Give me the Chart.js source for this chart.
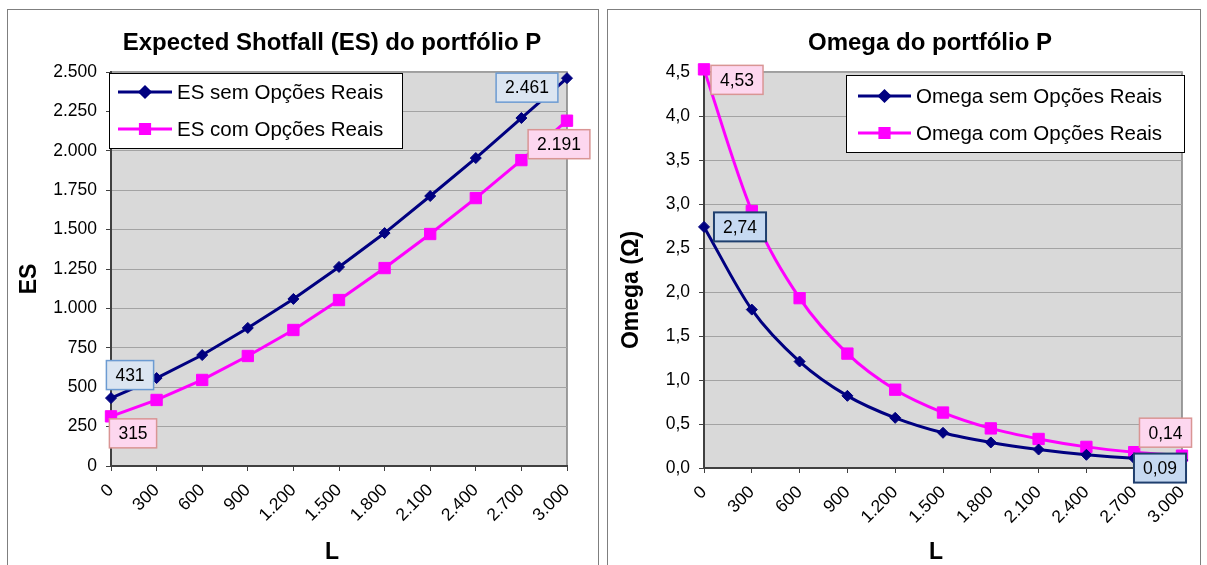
<!DOCTYPE html>
<html>
<head>
<meta charset="utf-8">
<title>ES e Omega do portfólio P</title>
<script src="https://cdn.jsdelivr.net/npm/chart.js@4/dist/chart.umd.min.js"></script>
<style>
  body { margin: 0; background: #fff; width: 1207px; height: 565px; overflow: hidden; position: relative; }
  .moldura { position: absolute; top: 9px; height: 600px; border: 1.5px solid #7f7f7f; box-sizing: border-box; }
  canvas { position: absolute; top: 0; }
</style>
</head>
<body>
<div class="moldura" style="left:7px;width:592px"></div>
<div class="moldura" style="left:607px;width:594px"></div>
<canvas id="graficoES" width="603" height="565" style="left:0;width:603px;height:565px"></canvas>
<canvas id="graficoOmega" width="604" height="565" style="left:603px;width:604px;height:565px"></canvas>
<script>
// níveis de L (eixo x, comum aos dois gráficos)
const niveisL = [0, 300, 600, 900, 1200, 1500, 1800, 2100, 2400, 2700, 3000];

// Expected Shortfall
const esSemOpcoes = [431, 558, 704, 876, 1060, 1263, 1478, 1713, 1954, 2208, 2461];
const esComOpcoes = [315, 419, 546, 698, 863, 1053, 1256, 1472, 1700, 1941, 2191];

// Omega
const omegaSemOpcoes = [2.74, 1.80, 1.21, 0.82, 0.57, 0.40, 0.29, 0.21, 0.15, 0.11, 0.09];
const omegaComOpcoes = [4.53, 2.92, 1.93, 1.30, 0.89, 0.63, 0.45, 0.33, 0.24, 0.18, 0.14];

const FONTE = '"Liberation Sans", Arial, sans-serif';
const AZUL = '#000080';
const MAGENTA = '#ff00ff';

function fmtMilhar(v) {
  return String(Math.round(v)).replace(/\B(?=(\d{3})+(?!\d))/g, '.');
}
function fmtDecimal(v, casas) {
  return Number(v).toFixed(casas).replace('.', ',');
}
const formatos = {
  milhar: v => fmtMilhar(v),
  decimal: v => fmtDecimal(v, 2)
};

const estilosRotulo = {
  azulClaro: { fundo: '#dbe5f1', borda: '#6c9bd2', largura: 1.5 },
  azulEscuro: { fundo: '#c6d9f1', borda: '#1f3f6e', largura: 2 },
  rosa: { fundo: '#fdd7ef', borda: '#d99594', largura: 1.5 }
};

// fundo cinza e borda da área de plotagem
const areaPlot = {
  id: 'areaPlot',
  beforeDraw(chart) {
    const { ctx, chartArea: a } = chart;
    ctx.save();
    ctx.fillStyle = '#d9d9d9';
    ctx.fillRect(a.left, a.top, a.right - a.left, a.bottom - a.top);
    ctx.strokeStyle = '#808080';
    ctx.lineWidth = 1.5;
    ctx.strokeRect(a.left, a.top, a.right - a.left, a.bottom - a.top);
    ctx.restore();
  }
};

// título e títulos dos eixos
const textos = {
  id: 'textos',
  afterDraw(chart, args, opts) {
    const ctx = chart.ctx;
    for (const t of opts.itens) {
      ctx.save();
      ctx.translate(t.x, t.y);
      if (t.rot) ctx.rotate(t.rot);
      ctx.fillStyle = '#000';
      ctx.textAlign = 'center';
      ctx.textBaseline = 'middle';
      ctx.font = 'bold ' + t.size + 'px ' + FONTE;
      ctx.fillText(t.text, 0, 0);
      ctx.restore();
    }
  }
};

// caixas com o valor do primeiro e do último ponto
const rotulosValor = {
  id: 'rotulosValor',
  afterDatasetsDraw(chart, args, opts) {
    const ctx = chart.ctx;
    const formato = formatos[opts.formato];
    ctx.save();
    ctx.font = '17.5px ' + FONTE;
    ctx.textAlign = 'center';
    ctx.textBaseline = 'middle';
    for (const r of opts.itens) {
      const pt = chart.getDatasetMeta(r.ds).data[r.idx];
      const txt = formato(chart.data.datasets[r.ds].data[r.idx]);
      const w = ctx.measureText(txt).width + 18;
      const h = 29;
      const cx = pt.x + r.dx, cy = pt.y + r.dy;
      const s = estilosRotulo[r.estilo];
      ctx.fillStyle = s.fundo;
      ctx.fillRect(cx - w / 2, cy - h / 2, w, h);
      ctx.strokeStyle = s.borda;
      ctx.lineWidth = s.largura;
      ctx.strokeRect(cx - w / 2, cy - h / 2, w, h);
      ctx.fillStyle = '#000';
      ctx.fillText(txt, cx, cy + 1);
    }
    ctx.restore();
  }
};

// legenda com moldura dentro da área de plotagem
const legendaCaixa = {
  id: 'legendaCaixa',
  afterDraw(chart, args, o) {
    const ctx = chart.ctx;
    ctx.save();
    ctx.fillStyle = '#fff';
    ctx.fillRect(o.x, o.y, o.w, o.h);
    ctx.strokeStyle = '#000';
    ctx.lineWidth = 1;
    ctx.strokeRect(o.x + 0.5, o.y + 0.5, o.w, o.h);
    chart.data.datasets.forEach((ds, i) => {
      const y = o.y + o.linhas[i];
      const x0 = o.x + o.linhaIni, x1 = o.x + o.linhaFim;
      ctx.strokeStyle = ds.borderColor;
      ctx.lineWidth = 3;
      ctx.beginPath();
      ctx.moveTo(x0, y);
      ctx.lineTo(x1, y);
      ctx.stroke();
      ctx.fillStyle = ds.backgroundColor;
      Chart.helpers.drawPoint(ctx, {
        pointStyle: ds.pointStyle,
        radius: ds.pointStyle === 'rect' ? 6.5 : 5,
        borderWidth: 1,
        rotation: 0
      }, (x0 + x1) / 2, y);
      ctx.fillStyle = '#000';
      ctx.font = '20.5px ' + FONTE;
      ctx.textAlign = 'left';
      ctx.textBaseline = 'middle';
      ctx.fillText(ds.label, o.x + o.texto, y + 1);
    });
    ctx.restore();
  }
};

function serie(label, dados, cor, estilo, raio, tensao) {
  return {
    label: label,
    data: dados,
    borderColor: cor,
    backgroundColor: cor,
    borderWidth: 3,
    pointStyle: estilo,
    pointRadius: raio,
    pointBorderWidth: 1,
    tension: tensao,
    cubicInterpolationMode: tensao ? 'monotone' : 'default',
    clip: false
  };
}

function eixos(yMin, yMax, passo, fmtY, larguraY, alturaX) {
  return {
    x: {
      type: 'category',
      offset: false,
      grid: { drawOnChartArea: false, drawTicks: true, tickLength: 5, tickColor: '#404040' },
      border: { color: '#404040', width: 2 },
      ticks: {
        color: '#000',
        font: { family: FONTE, size: 17.5 },
        minRotation: 45,
        maxRotation: 45,
        autoSkip: false,
        padding: 9
      },
      afterFit(scale) { scale.height = alturaX; }
    },
    y: {
      min: yMin,
      max: yMax,
      grid: { color: '#a3a3a3', lineWidth: 1, tickLength: 5, tickColor: '#404040' },
      border: { color: '#404040', width: 2 },
      ticks: {
        stepSize: passo,
        color: '#000',
        font: { family: FONTE, size: 17.5 },
        padding: 9,
        callback: fmtY
      },
      afterFit(scale) { scale.width = larguraY; }
    }
  };
}

new Chart(document.getElementById('graficoES'), {
  type: 'line',
  data: {
    labels: niveisL.map(fmtMilhar),
    datasets: [
      serie('ES sem Opções Reais', esSemOpcoes, AZUL, 'rectRot', 5.5, 0),
      serie('ES com Opções Reais', esComOpcoes, MAGENTA, 'rect', 8, 0)
    ]
  },
  options: {
    responsive: false,
    animation: false,
    devicePixelRatio: 1,
    layout: { padding: { top: 72, right: 36, bottom: 0, left: 0 } },
    scales: eixos(0, 2500, 250, v => fmtMilhar(v), 111, 99),
    plugins: {
      legend: { display: false },
      title: { display: false },
      tooltip: { enabled: false },
      textos: {
        itens: [
          { text: 'Expected Shotfall (ES) do portfólio P', x: 332, y: 43, size: 24 },
          { text: 'ES', x: 30, y: 279, size: 23, rot: -Math.PI / 2 },
          { text: 'L', x: 332, y: 553, size: 23 }
        ]
      },
      rotulosValor: {
        formato: 'milhar',
        itens: [
          { ds: 0, idx: 0, dx: 19, dy: -23, estilo: 'azulClaro' },
          { ds: 0, idx: 10, dx: -40, dy: 9.5, estilo: 'azulClaro' },
          { ds: 1, idx: 0, dx: 22, dy: 17, estilo: 'rosa' },
          { ds: 1, idx: 10, dx: -8, dy: 23.5, estilo: 'rosa' }
        ]
      },
      legendaCaixa: { x: 109, y: 73, w: 293, h: 75, linhas: [19, 56], linhaIni: 9, linhaFim: 63, texto: 68 }
    }
  },
  plugins: [areaPlot, rotulosValor, legendaCaixa, textos]
});

new Chart(document.getElementById('graficoOmega'), {
  type: 'line',
  data: {
    labels: niveisL.map(fmtMilhar),
    datasets: [
      serie('Omega sem Opções Reais', omegaSemOpcoes, AZUL, 'rectRot', 5.5, 0.4),
      serie('Omega com Opções Reais', omegaComOpcoes, MAGENTA, 'rect', 8, 0.4)
    ]
  },
  options: {
    responsive: false,
    animation: false,
    devicePixelRatio: 1,
    layout: { padding: { top: 72, right: 25, bottom: 0, left: 0 } },
    scales: eixos(0, 4.5, 0.5, v => fmtDecimal(v, 1), 101, 97),
    plugins: {
      legend: { display: false },
      title: { display: false },
      tooltip: { enabled: false },
      textos: {
        itens: [
          { text: 'Omega do portfólio P', x: 327, y: 43, size: 24 },
          { text: 'Omega (Ω)', x: 29, y: 290, size: 23, rot: -Math.PI / 2 },
          { text: 'L', x: 333, y: 553, size: 23 }
        ]
      },
      rotulosValor: {
        formato: 'decimal',
        itens: [
          { ds: 1, idx: 0, dx: 33, dy: 10.5, estilo: 'rosa' },
          { ds: 0, idx: 0, dx: 36, dy: 0, estilo: 'azulEscuro' },
          { ds: 1, idx: 10, dx: -16.5, dy: -23, estilo: 'rosa' },
          { ds: 0, idx: 10, dx: -22, dy: 8, estilo: 'azulEscuro' }
        ]
      },
      legendaCaixa: { x: 243, y: 75, w: 338, h: 77, linhas: [21, 58], linhaIni: 12, linhaFim: 65, texto: 70 }
    }
  },
  plugins: [areaPlot, rotulosValor, legendaCaixa, textos]
});
</script>
</body>
</html>
